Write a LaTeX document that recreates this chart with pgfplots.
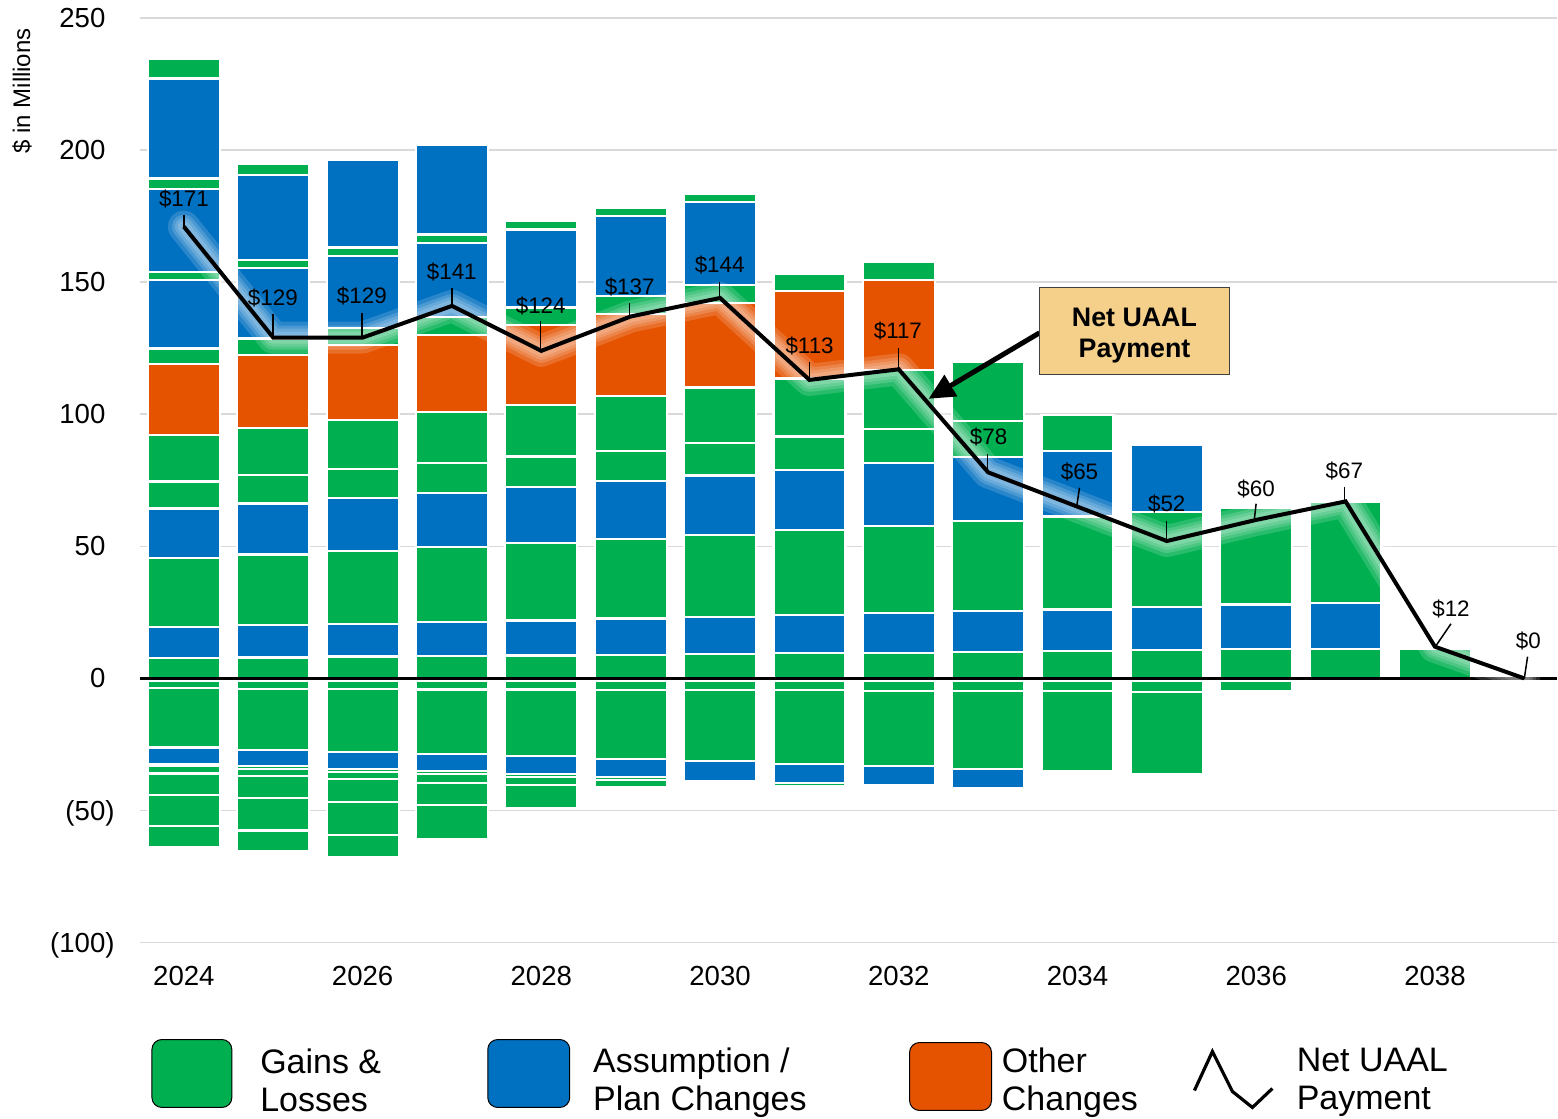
\documentclass[border=0pt]{standalone}
\usepackage{fontspec}
\setmainfont{Liberation Sans}
\usepackage{pgfplots}
\pgfplotsset{compat=1.18}
\usetikzlibrary{arrows.meta}
\definecolor{cG}{RGB}{0,176,80}
\definecolor{cB}{RGB}{0,112,192}
\definecolor{cO}{RGB}{229,83,0}
\definecolor{cBox}{RGB}{245,208,138}
\definecolor{cGrid}{RGB}{217,217,217}
\pgfplotsset{seg/.style={ybar, bar width=36pt, bar shift=0pt, fill=#1, draw=white, line width=1.1pt, forget plot},
  halo/.style={white, opacity=0.16, line width=#1, line join=round, line cap=round, forget plot}}
\pgfplotstableread{
x y
2024 171
2025 129
2026 129
2027 141
2028 124
2029 137
2030 144
2031 113
2032 117
2033 78
2034 65
2035 52
2036 60
2037 67
2038 12
2039 0
}\netline
\begin{document}
\begin{tikzpicture}
% bounding box in pixel units of the reference (1558 x 1119)
\begin{scope}[x=0.5pt, y=-0.5pt, shift={(-140,-943)}]
\path[use as bounding box] (0,0) rectangle (1558,1119);
\end{scope}
\begin{axis}[
  at={(0,0)}, anchor=south west,
  scale only axis, width=709pt, height=462.5pt,
  xmin=2023.508, xmax=2039.369, ymin=-100, ymax=250,
  axis line style={draw=none}, tick style={draw=none},
  ymajorgrids, grid style={cGrid, line width=0.75pt},
  ytick={-100,-50,0,50,100,150,200,250},
  yticklabels={(100),(50),0\phantom{)},50\phantom{)},100\phantom{)},150\phantom{)},200\phantom{)},250\phantom{)}},
  yticklabel style={font=\fontsize{13.8}{16}\selectfont, anchor=east, inner sep=0pt, xshift=-12.5pt, yshift=-1.2pt},
  xtick={2024,2026,2028,2030,2032,2034,2036,2038},
  xticklabels={2024,2026,2028,2030,2032,2034,2036,2038},
  xticklabel style={font=\fontsize{13.8}{16}\selectfont, anchor=center, inner sep=0pt, yshift=-16.5pt},
]
% ---------- positive stack (cumulative tops, painted from top level down)
\addplot[seg=cG] coordinates {(2024,234.5)};
\addplot[seg=cB] coordinates {(2024,227.1)};
\addplot[seg=cG] coordinates {(2024,189.2) (2025,194.6)};
\addplot[seg=cB] coordinates {(2024,185.3) (2025,190.7) (2026,196.3) (2027,202.1)};
\addplot[seg=cG] coordinates {(2024,153.9) (2025,158.5) (2026,163.1) (2027,168.0) (2028,173.0) (2029,178.0) (2030,183.3)};
\addplot[seg=cB] coordinates {(2024,150.9) (2025,155.3) (2026,160.0) (2027,164.9) (2028,169.9) (2029,175.1) (2030,180.2)};
\addplot[seg=cG] coordinates {(2024,124.9) (2025,128.7) (2026,132.6) (2027,136.7) (2028,140.4) (2029,144.9) (2030,149.0) (2031,153.2) (2032,157.8)};
\addplot[seg=cO] coordinates {(2024,119.0) (2025,122.4) (2026,126.2) (2027,130.1) (2028,133.9) (2029,137.9) (2030,142.1) (2031,146.5) (2032,150.8)};
\addplot[seg=cG] coordinates {(2024,92.1) (2025,94.8) (2026,97.7) (2027,100.7) (2028,103.6) (2029,106.8) (2030,110.1) (2031,113.5) (2032,116.8) (2033,119.8)};
\addplot[seg=cG] coordinates {(2024,74.5) (2025,76.9) (2026,79.2) (2027,81.4) (2028,84.0) (2029,86.2) (2030,89.0) (2031,91.6) (2032,94.4) (2033,97.3) (2034,99.8)};
\addplot[seg=cB] coordinates {(2024,64.3) (2025,66.2) (2026,68.2) (2027,70.2) (2028,72.4) (2029,74.6) (2030,76.8) (2031,79.0) (2032,81.4) (2033,83.9) (2034,86.2) (2035,88.5)};
\addplot[seg=cG] coordinates {(2024,45.6) (2025,46.9) (2026,48.1) (2027,49.8) (2028,51.2) (2029,52.8) (2030,54.3) (2031,56.1) (2032,57.8) (2033,59.5) (2034,61.3) (2035,62.9) (2036,64.6) (2037,66.7)};
\addplot[seg=cB] coordinates {(2024,19.5) (2025,20.2) (2026,20.7) (2027,21.3) (2028,21.9) (2029,22.7) (2030,23.2) (2031,24.1) (2032,24.7) (2033,25.5) (2034,26.1) (2035,27.0) (2036,28.0) (2037,28.6)};
\addplot[seg=cG] coordinates {(2024,7.6) (2025,7.9) (2026,8.3) (2027,8.4) (2028,8.7) (2029,8.8) (2030,9.1) (2031,9.6) (2032,9.7) (2033,10.1) (2034,10.3) (2035,10.6) (2036,11.0) (2037,11.2) (2038,11.3)};
% ---------- negative stack (cumulative bottoms, painted from deepest level up)
\addplot[seg=cG] coordinates {(2024,-63.7) (2025,-65.5) (2026,-67.6)};
\addplot[seg=cG] coordinates {(2024,-55.9) (2025,-57.6) (2026,-59.4) (2027,-60.9)};
\addplot[seg=cG] coordinates {(2024,-44.0) (2025,-45.3) (2026,-46.8) (2027,-48.0) (2028,-49.2)};
\addplot[seg=cG] coordinates {(2024,-36.0) (2025,-37.1) (2026,-38.2) (2027,-39.5) (2028,-40.5) (2029,-41.3)};
\addplot[seg=cG] coordinates {(2024,-33.3) (2025,-34.4) (2026,-35.4) (2027,-36.3) (2028,-37.4) (2029,-38.6) (2030,-39.5) (2031,-40.6)};
\addplot[seg=cB] coordinates {(2024,-32.3) (2025,-33.3) (2026,-34.2) (2027,-35.2) (2028,-36.3) (2029,-37.4) (2030,-38.7) (2031,-39.6) (2032,-40.4) (2033,-41.7)};
\addplot[seg=cG] coordinates {(2024,-26.2) (2025,-27.1) (2026,-27.9) (2027,-28.7) (2028,-29.5) (2029,-30.6) (2030,-31.4) (2031,-32.4) (2032,-33.3) (2033,-34.4) (2034,-35.0) (2035,-36.3)};
\addplot[seg=cG] coordinates {(2024,-3.7) (2025,-3.9) (2026,-3.9) (2027,-4.2) (2028,-4.2) (2029,-4.5) (2030,-4.5) (2031,-4.5) (2032,-4.8) (2033,-4.8) (2034,-4.9) (2035,-5.2) (2036,-5.0)};
\addplot[seg=cB] coordinates {(2024,-1.0) (2025,-1.0) (2026,-1.0) (2027,-1.0) (2028,-1.0) (2029,-1.0) (2030,-1.0) (2031,-1.0) (2032,-1.0) (2033,-1.0) (2034,-1.0) (2035,-1.0) (2036,-1.0)};
% ---------- zero line
\addplot[black, line width=1.5pt, forget plot] coordinates {(2023.508,0) (2039.369,0)};
% ---------- net UAAL payment line with soft white halo (layered)
\addplot[halo=16pt] table[x=x, y=y] {\netline};
\addplot[halo=12pt] table[x=x, y=y] {\netline};
\addplot[halo=9pt] table[x=x, y=y] {\netline};
\addplot[halo=6pt] table[x=x, y=y] {\netline};
\addplot[black, line width=2pt, line join=miter, forget plot] table[x=x, y=y] {\netline};
\end{axis}
% ---------- annotations in reference pixel units
\begin{scope}[x=0.5pt, y=-0.5pt, shift={(-140,-943)}]
\node[rotate=90, font=\fontsize{12}{14}\selectfont] at (22,91) {\$ in Millions};
\begin{scope}[every node/.style={font=\fontsize{11.2}{13}\selectfont, inner sep=0pt}, line width=0.75pt]
\node at (184,199) {\$171};   \draw (184,215) -- (184,227);
\node at (273,298) {\$129};   \draw (273,314) -- (273,338);
\node at (362,296) {\$129};   \draw (362,313) -- (362,338);
\node at (452,272) {\$141};   \draw (452,288) -- (452,305);
\node at (541,305.7) {\$124}; \draw (541,321) -- (541,351);
\node at (630,287.3) {\$137}; \draw (630,303) -- (630,317);
\node at (720,265) {\$144};   \draw (720,281.7) -- (720,298);
\node at (810,345.7) {\$113}; \draw (810,361.7) -- (810,380);
\node at (898.3,331) {\$117}; \draw (899,348) -- (899,368);
\node at (989,437.3) {\$78};  \draw (988,454) -- (988,472);
\node at (1080,472.3) {\$65}; \draw (1080,488) -- (1077.5,505);
\node at (1167.3,504.3) {\$52}; \draw (1167,521) -- (1167,540);
\node at (1256.7,489) {\$60}; \draw (1256.7,504) -- (1255,519);
\node at (1345,471.7) {\$67}; \draw (1345,487) -- (1345,502);
\node at (1451.7,609) {\$12}; \draw (1451.7,624) -- (1436,647);
\node at (1529,641.7) {\$0};  \draw (1528.3,657) -- (1525,679);
\end{scope}
% callout
\draw[line width=2.5pt, -{Triangle[length=13pt, width=12pt]}] (1040,333) -- (929,399);
\draw[fill=cBox, draw=black!75, line width=0.6pt] (1040,288) rectangle (1230,375);
\node[font=\fontsize{13.4}{15.5}\selectfont\bfseries, align=center] at (1135,336) {Net UAAL\\Payment};
% legend
\draw[fill=cG, draw=black, line width=0.5pt, rounded corners=5pt] (152,1040) rectangle (232,1108);
\node[anchor=west, align=left, inner sep=0pt, font=\fontsize{17}{19}\selectfont] at (260,1081) {Gains \&\\Losses};
\draw[fill=cB, draw=black, line width=0.5pt, rounded corners=5pt] (488,1040) rectangle (570,1108);
\node[anchor=west, align=left, inner sep=0pt, font=\fontsize{17}{19}\selectfont] at (593,1083) {Assumption /\\Plan Changes};
\draw[fill=cO, draw=black, line width=0.5pt, rounded corners=5pt] (910,1043) rectangle (992,1111);
\node[anchor=west, align=left, inner sep=0pt, font=\fontsize{17}{19}\selectfont] at (1002,1083) {Other\\Changes};
\draw[line width=1.6pt] (1195,1091) -- (1213,1052) -- (1233,1092) -- (1253,1108) -- (1273,1089);
\node[anchor=west, align=left, inner sep=0pt, font=\fontsize{17}{19}\selectfont] at (1297,1083) {Net UAAL\\Payment};
\end{scope}
\end{tikzpicture}
\end{document}
